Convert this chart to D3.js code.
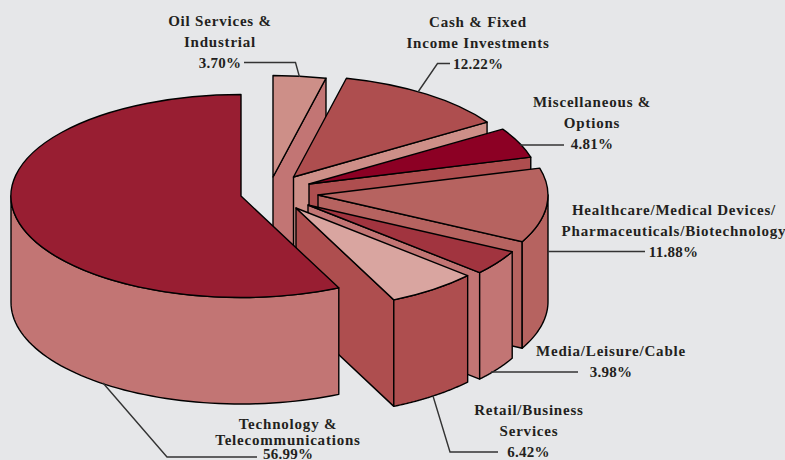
<!DOCTYPE html>
<html>
<head>
<meta charset="utf-8">
<script src="https://cdn.jsdelivr.net/npm/d3@7"></script>
<style>
  html, body { margin: 0; padding: 0; background: #e6e7e9; }
  svg { display: block; }
  .label { font-family: "Liberation Serif", serif; font-weight: bold; font-size: 15px; fill: #231f20; letter-spacing: 0.8px; }
  .value { font-family: "Liberation Serif", serif; font-weight: bold; font-size: 15px; fill: #231f20; letter-spacing: 0.25px; }
  .leader { fill: none; stroke: #333; stroke-width: 1.4; }
  .face { stroke: #000; stroke-width: 1.4; stroke-linejoin: round; }
</style>
</head>
<body>
<script>
// values in the order they run clockwise from 12 o'clock
var sectors = [["Oil Services &", "Industrial"],
               ["Cash & Fixed", "Income Investments"],
               ["Miscellaneous &", "Options"],
               ["Healthcare/Medical Devices/", "Pharmaceuticals/Biotechnology"],
               ["Media/Leisure/Cable"],
               ["Retail/Business", "Services"],
               ["Technology &", "Telecommunications"]];
var percents = [3.70, 12.22, 4.81, 11.88, 3.98, 6.42, 56.99];

var width = 785;
var height = 460;
var rx = 230;
var ry = 101.5;
var depth = 106.5;

// where each exploded slice has its point, same order as sectors
var apexes = [[273,177], [293.5,177], [309,184], [318,195], [308,205], [296,208], [241,196]];
var topColors = ["#cd8f88", "#ae4e4f", "#8c0024", "#b66360", "#a1343f", "#d9a5a0", "#981e32"];
var sideColors = ["#c27574", "#cd8f88", "#ae4e4f", "#b66360", "#c27574", "#ae4e4f", "#c27574"];

// label placement: centre x, first baseline, line gap, then the value's x and baseline
var labelPos = [
  {x: 220, y: 26, gap: 21, vx: 220, vy: 68},
  {x: 478, y: 27, gap: 21, vx: 478, vy: 69},
  {x: 592, y: 107, gap: 21, vx: 592, vy: 149},
  {x: 674, y: 215, gap: 21, vx: 673.5, vy: 257},
  {x: 611, y: 356, gap: 21, vx: 611, vy: 377},
  {x: 529, y: 415, gap: 21, vx: 528.5, vy: 457},
  {x: 288, y: 429, gap: 16, vx: 288, vy: 459}
];

var leaders = [
  [[244,62.5], [295.5,62.5], [299.5,77]],
  [[418,92], [437.5,63.5], [450,63.5]],
  [[520,145], [564,145]],
  [[548,251.5], [645,251.5]],
  [[491,372], [578,372]],
  [[433,396], [450,452], [498,452]],
  [[103,383], [167,457], [257,457]]
];

var svg = d3.select("body").append("svg")
            .attr("width", width)
            .attr("height", height);

var pie = d3.pie().sort(null).value(function(d){ return d; });
var arcs = pie(percents);
var topArc = d3.arc().innerRadius(0).outerRadius(1);
var line = d3.line();

function rimPoint(a){
  return [rx * Math.sin(a), -ry * Math.cos(a)];
}

// curved outside of the slice, only the part facing the viewer
function outerWall(a0, a1){
  var from = Math.max(a0, Math.PI / 2);
  var to = Math.min(a1, 3 * Math.PI / 2);
  if (from >= to){
    return null;
  }
  var rim = d3.range(0, 61).map(function(i){
    return rimPoint(from + (to - from) * i / 60);
  });
  var lower = rim.slice().reverse().map(function(p){ return [p[0], p[1] + depth]; });
  return line(rim.concat(lower)) + "Z";
}

// flat cut face on the clockwise edge of the slice
function cutWall(a1){
  var p = rimPoint(a1);
  return line([[0,0], p, [p[0], p[1] + depth], [0, depth]]) + "Z";
}

var slices = svg.selectAll(".slice")
                .data(arcs)
                .enter()
                .append("g")
                .attr("class", "slice")
                .attr("transform", function(d, i){
                  return "translate(" + apexes[i][0] + "," + apexes[i][1] + ")";
                });

slices.filter(function(d){ return Math.sin(d.endAngle) > 0.001; })
      .append("path")
      .attr("class", "face")
      .attr("fill", function(d){ return sideColors[d.index]; })
      .attr("d", function(d){ return cutWall(d.endAngle); });

slices.filter(function(d){ return outerWall(d.startAngle, d.endAngle) != null; })
      .append("path")
      .attr("class", "face")
      .attr("fill", function(d){ return sideColors[d.index]; })
      .attr("d", function(d){ return outerWall(d.startAngle, d.endAngle); });

slices.append("path")
      .attr("class", "face")
      .attr("fill", function(d){ return topColors[d.index]; })
      .attr("vector-effect", "non-scaling-stroke")
      .attr("transform", "scale(" + rx + "," + ry + ")")
      .attr("d", function(d){ return topArc(d); });

svg.selectAll(".leader")
   .data(leaders)
   .enter()
   .append("path")
   .attr("class", "leader")
   .attr("d", function(d){ return line(d); });

sectors.forEach(function(lines, i){
  var pos = labelPos[i];
  lines.forEach(function(t, j){
    svg.append("text")
       .attr("class", "label")
       .attr("x", pos.x)
       .attr("y", pos.y + j * pos.gap)
       .attr("text-anchor", "middle")
       .text(t);
  });
  svg.append("text")
     .attr("class", "value")
     .attr("x", pos.vx)
     .attr("y", pos.vy)
     .attr("text-anchor", "middle")
     .text(percents[i].toFixed(2) + "%");
});
</script>
</body>
</html>
